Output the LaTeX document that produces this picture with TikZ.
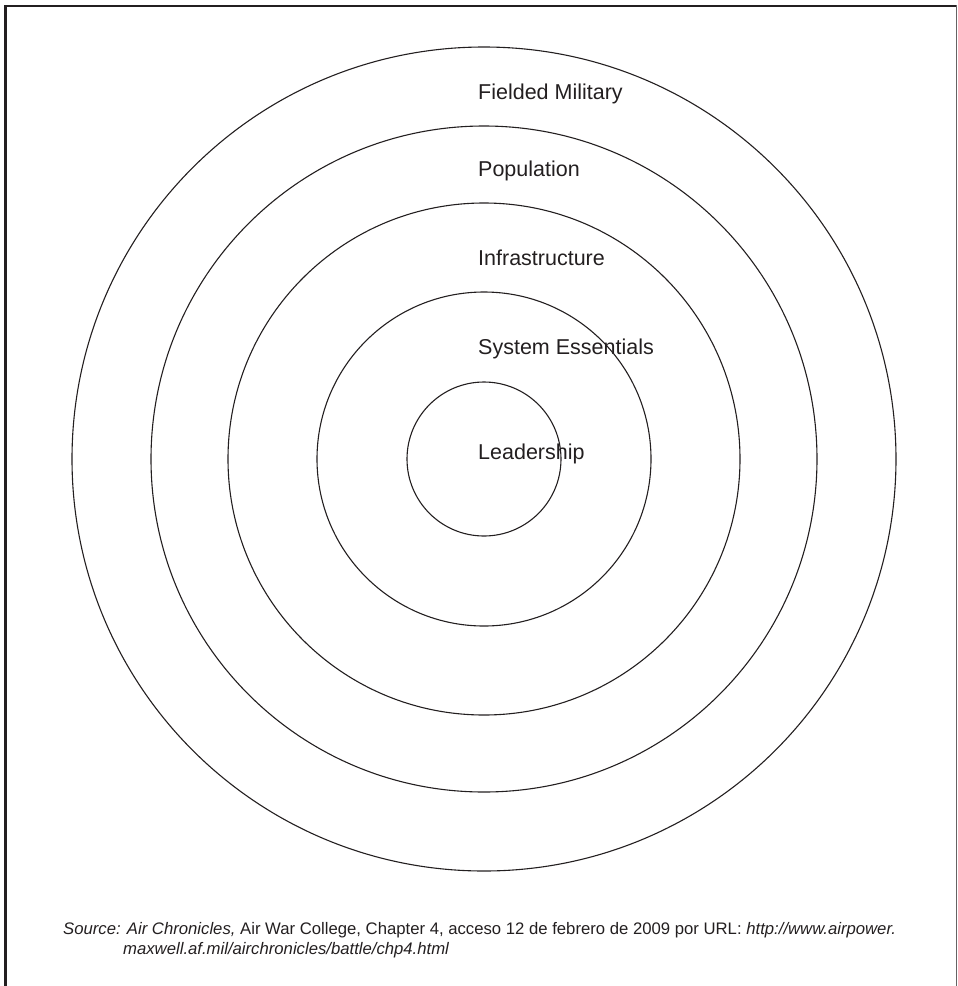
\documentclass[tikz,border=0pt]{standalone}
\usepackage{fontspec}
\setmainfont{Liberation Sans}
\usetikzlibrary{positioning}
\definecolor{inkgray}{HTML}{231F20}

\begin{document}
\begin{tikzpicture}[
x=1pt, y=-1pt,
ring/.style={draw=inkgray, line width=1.1pt},
level/.style={anchor=base west, inner sep=0pt, text=inkgray, font=\fontsize{21.5}{25}\selectfont},
srcline/.style={anchor=base west, inner sep=0pt, text=inkgray, font=\fontsize{16.7}{19}\selectfont},
]
\useasboundingbox (0,0) rectangle (958,986);
% frame
\draw[inkgray, line width=3pt] (5.5,990) -- (5.5,5);
\draw[inkgray, line width=2pt] (4,6) -- (956.5,6);
\draw[inkgray!70, line width=1pt] (956.5,5) -- (956.5,990);

% circles
\coordinate (ctr) at (484,459);
\draw[ring] (ctr) circle (412);
\draw[ring] (ctr) circle (333);
\draw[ring] (ctr) circle (256);
\draw[ring] (ctr) circle (167);
\draw[ring] (ctr) circle (77);

% labels
\node[level] (fielded) at (478,99.3) {Fielded Military};
\node[level] (population) at (478,176.7) {Population};
\node[level] (infra) at (478,265) {Infrastructure};
\node[level] (essentials) at (478,354) {System Essentials};
\node[level] (leadership) at (478,459) {Leadership};

% source
\node[srcline] (src1) at (63,934) {\textit{Source: Air Chronicles,} Air War College, Chapter 4, acceso 12 de febrero de 2009 por URL: \textit{http://www.airpower.}};
\node[srcline] (src2) at (123,954) {\textit{maxwell.af.mil/airchronicles/battle/chp4.html}};
\end{tikzpicture}
\end{document}
